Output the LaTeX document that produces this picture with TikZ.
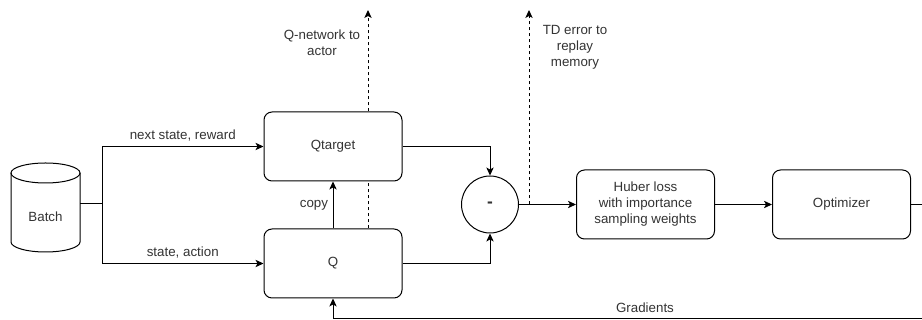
\documentclass[tikz,border=0pt]{standalone}
\usepackage{fontspec}
\setmainfont{Liberation Sans}
\usetikzlibrary{arrows.meta, positioning}
\definecolor{dqtext}{HTML}{333333}

\begin{document}
\begin{tikzpicture}[
    x=0.75pt, y=0.75pt,
    font=\fontsize{10}{12}\selectfont, text=dqtext,
    node distance=42.75pt,
    blk/.style={rounded corners=6pt, draw=black, fill=white, line width=0.75pt,
                inner sep=2pt, align=center,
                minimum width=103.5pt, minimum height=51.75pt},
    cyl/.style={minimum width=51.75pt, inner sep=0pt},
    ar/.style={-{Stealth[length=6pt,width=5.5pt,inset=1.5pt]}, line width=0.75pt},
    fb/.style={ar, dash pattern=on 2.25pt off 2.25pt},
  ]
  \useasboundingbox (0,0) rectangle (922,320);
  \clip (0,0) rectangle (922,320);

  % replay memory batch
  \node[cyl] (batch) at (45.5,103) {Batch};
  \draw[line width=0.75pt] ([shift={(-34.5,44)}]batch.center) -- ++(0,-69)
    arc[start angle=180, end angle=360, x radius=34.5, y radius=10] -- ++(0,69);
  \draw[line width=0.75pt] ([yshift=33pt]batch.center) ellipse[x radius=34.5, y radius=10];
  \coordinate (bout) at (80,116);
  \coordinate (split) at (102,116);

  % networks
  \node[blk] (qtarget) at (333,173.5) {Qtarget};
  \node[blk, below=35.25pt of qtarget] (qnet) {Q};

  \node[circle, draw=black, line width=0.75pt, minimum size=42.75pt, inner sep=0pt]
    (diff) at (490,115.5) {\fontsize{13}{14}\selectfont\textbf{-}};
  \node[blk, right=of diff] (huber) {Huber loss\\with importance\\sampling weights};
  \node[blk, right=of huber] (optim) {Optimizer};

  \draw[line width=0.75pt] (bout) -- (split);
  \draw[ar] (split) |- (qtarget.west) node[pos=0.75, above] {next state, reward};
  \draw[ar] (split) |- (qnet.west) node[pos=0.75, above] {state, action};
  \draw[ar] (qnet) -- (qtarget) node[midway, left] {copy};

  \draw[ar] (qtarget.east) -| (diff.north);
  \draw[ar] (qnet.east) -| (diff.south);
  \draw[ar] (diff) -- (huber);
  \draw[ar] (huber) -- (optim);

  % dashed outputs
  \coordinate (qnout) at (368,310);
  \draw[line width=0.75pt, dash pattern=on 2.25pt off 2.25pt]
    (qnet.north -| qnout) -- (qtarget.south -| qnout);
  \draw[fb] (qtarget.north -| qnout) -- (qnout);
  \node[align=center] (qnlbl) at (322,277) {Q-network to\\actor};

  \coordinate (tdout) at (529,310);
  \draw[fb] (diff.east -| tdout) -- (tdout);
  \node[align=center] (tdlbl) at (575,273) {TD error to\\replay\\memory};

  % gradients back to Q
  \coordinate (fbr) at (935,1);
  \draw[ar] (optim.east) -| (fbr) -| (qnet.south);
  \node (gradlbl) at (645,12) {Gradients};
\end{tikzpicture}
\end{document}
